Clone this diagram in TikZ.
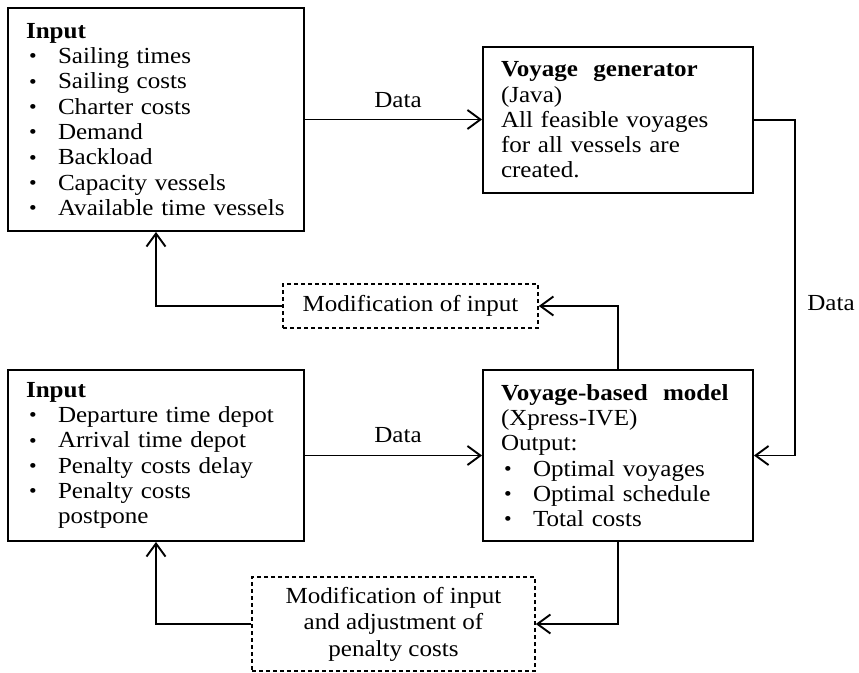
\documentclass[tikz,border=0pt]{standalone}
\usepackage{fontspec}
\setmainfont{Liberation Serif}[FakeStretch=1.09]
\usetikzlibrary{arrows.meta,calc}

% bullet item with a fixed hanging indent
\newcommand\bul[1]{\makebox[32pt][l]{\hspace{3pt}\raisebox{0.8pt}{\fontsize{20}{20}\selectfont\textbullet}}#1}

\tikzset{
  box/.style={draw, line width=1.9pt, align=left, inner xsep=18pt, inner ysep=0pt,
              font=\fontsize{23}{25.3}\selectfont},
  dbox/.style={draw, line width=1.6pt, dash pattern=on 4pt off 3pt, align=center,
               inner sep=0pt, font=\fontsize{23}{26.5}\selectfont},
  arr/.style={line width=1.9pt, -{Straight Barb[length=13pt,width=19pt,line width=1.9pt]}},
  lbl/.style={font=\fontsize{23}{25.3}\selectfont, inner sep=0pt}
}

\begin{document}
\begin{tikzpicture}[x=1pt,y=-1pt]
\useasboundingbox (0,0) rectangle (859,672);

% main boxes
\node[box, text width=260pt, minimum width=296pt, minimum height=223pt] (in1) at (156,119.5)
  {\textbf{Input}\\
   \bul{Sailing times}\\
   \bul{Sailing costs}\\
   \bul{Charter costs}\\
   \bul{Demand}\\
   \bul{Backload}\\
   \bul{Capacity vessels}\\
   \bul{Available time vessels}};

\node[box, text width=234pt, minimum width=270pt, minimum height=146pt] (gen) at (618,120)
  {\textbf{Voyage\ \ generator}\\
   (Java)\\
   All feasible voyages\\
   for all vessels are\\
   created.};

\node[box, text width=260pt, minimum width=296pt, minimum height=171pt] (in2) at (156,455.5)
  {\textbf{Input}\\
   \bul{Departure time depot}\\
   \bul{Arrival time depot}\\
   \bul{Penalty costs delay}\\
   \bul{Penalty costs}\\
   \hspace*{32pt}postpone};

\node[box, text width=234pt, minimum width=270pt, minimum height=171pt] (model) at (618,455.5)
  {\textbf{Voyage-based\ \ model}\\
   (Xpress-IVE)\\
   Output:\\
   \bul{Optimal voyages}\\
   \bul{Optimal schedule}\\
   \bul{Total costs}};

% dashed feedback boxes
\node[dbox, minimum width=255pt, minimum height=44pt] (mod1) at (410.5,306)
  {Modification of input};
\node[dbox, minimum width=283pt, minimum height=94pt] (mod2) at (393.5,624)
  {Modification of input\\ and adjustment of\\ penalty costs};

% connectors
\draw[arr] (in1.east) -- (in1.east -| gen.west);
\draw[arr] (gen.east) -- ++(41,0) coordinate (gcorner) |- (model.east);
\draw[arr] (model.north) |- (mod1.east);
\draw[arr] (mod1.west) -| (in1.south);
\draw[arr] (in2.east) -- (model.west);
\draw[arr] (model.south) |- (mod2.east);
\draw[arr] (mod2.west) -| (in2.south);

% connector labels
\node[lbl] (d1) at (398,100) {Data};
\node[lbl] (d2) at (831,303) {Data};
\node[lbl] (d3) at (398,435) {Data};
\end{tikzpicture}
\end{document}
